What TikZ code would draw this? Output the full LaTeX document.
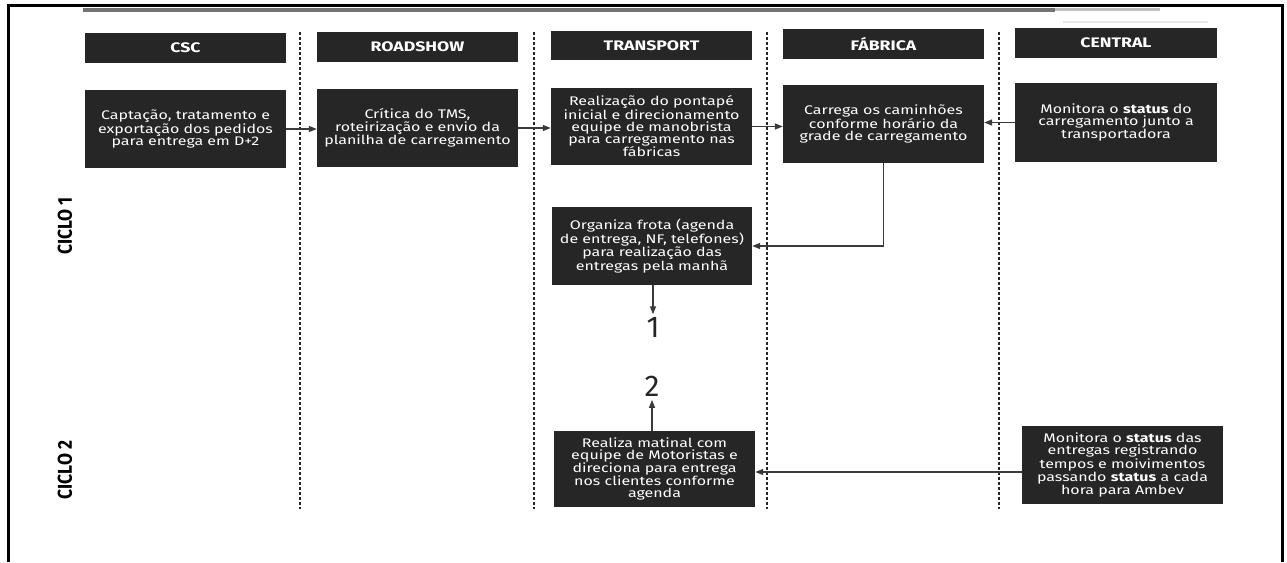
\documentclass[tikz,border=0pt]{standalone}
\usepackage{fontspec}
\setmainfont{Fira Sans}[FakeStretch=1.28]
\newfontfamily\plainfont{Fira Sans}
\newfontfamily\cyclefont{Fira Sans}[FakeStretch=0.87]
\usetikzlibrary{arrows.meta}
\definecolor{boxc}{HTML}{262626}
\definecolor{linec}{HTML}{3a3a3a}

\begin{document}
\begin{tikzpicture}[x=1pt,y=-1pt,
  lane/.style={fill=boxc, text=white, inner sep=0pt, align=center,
    minimum width=201pt, minimum height=78pt,
    font=\fontsize{12.5}{11.8}\selectfont},
  head/.style={fill=boxc, text=white, inner sep=0pt,
    minimum width=201pt, minimum height=30pt,
    font=\bfseries\fontsize{13.8}{15}\selectfont},
  flow/.style={draw=linec, line width=1.4pt, -{Triangle[length=8pt,width=6pt]}},
  divider/.style={draw=black!85, line width=1.3pt, dash pattern=on 3pt off 2pt},
  cyclelabel/.style={rotate=90, font=\cyclefont\bfseries\fontsize{20}{20}\selectfont},
  num/.style={font=\plainfont\fontsize{30}{30}\selectfont, text=black!85, inner sep=3pt}]

% page
\useasboundingbox (0,0) rectangle (1287,562);
\fill[white] (0,0) rectangle (1287,562);

% frame (open at the bottom)
\draw[line width=3pt] (8,562) -- (8,5) -- (1282,5) -- (1282,562);

% grey strip along the top
\fill[black!55] (83,7.5) rectangle (1055,11.5);
\fill[black!25] (1055,7.5) rectangle (1160,11);
\draw[black!10, line width=1.5pt] (1063,22) -- (1208,22);

% lane dividers
\foreach \x in {300,534,767,999}
  \draw[divider] (\x,32) -- (\x,509);

% lane headers
\node[head] (hcsc)   at (185.5,48)   {CSC};
\node[head] (hroad)  at (417.5,47)   {ROADSHOW};
\node[head, minimum height=29pt] (htrans) at (651.5,45.5) {TRANSPORT};
\node[head] (hfab)   at (883.5,44)   {FÁBRICA};
\node[head, minimum width=202pt] (hcen) at (1116,43) {CENTRAL};

% cycle labels
\node[cyclelabel] (c1) at (65,226) {CICLO 1};
\node[cyclelabel] (c2) at (65,470) {CICLO 2};

% cycle 1
\node[lane] (csc) at (185.5,129) {Captação, tratamento e\\exportação dos pedidos\\para entrega em D+2};
\node[lane] (road) at (417.5,128) {Crítica do TMS,\\roteirização e envio da\\planilha de carregamento};
\node[lane, minimum height=77pt] (trans) at (651.5,126.5) {Realização do pontapé\\inicial e direcionamento\\equipe de manobrista\\para carregamento nas\\fábricas};
\node[lane] (fab) at (883.5,124) {Carrega os caminhões\\conforme horário da\\grade de carregamento};
\node[lane, minimum width=202pt, minimum height=79pt] (cen) at (1116,122.5) {Monitora o \textbf{status} do\\carregamento junto a\\transportadora};
\node[lane, minimum width=200pt] (org) at (652,246) {Organiza frota (agenda\\de entrega, NF, telefones)\\para realização das\\entregas pela manhã};

\node[num] (n1) at (653,327.5) {1};
\node[num] (n2) at (652,386.5) {2};

% cycle 2
\node[lane, minimum height=76pt] (real) at (654.5,469) {Realiza matinal com\\equipe de Motoristas e\\direciona para entrega\\nos clientes conforme\\agenda};
\node[lane] (cen2) at (1122.5,465) {Monitora o \textbf{status} das\\entregas registrando\\tempos e moivimentos\\passando \textbf{status} a cada\\hora para Ambev};

% connectors
\draw[flow] (csc.east) -- (csc.east -| road.west);
\draw[flow] (road.east) -- (road.east -| trans.west);
\draw[flow] (trans.east) -- (trans.east -| fab.west);
\draw[flow] (cen.west) -- (cen.west -| fab.east);
\draw[flow] (fab.south) |- (org.east);
\draw[flow] (org.south -| n1.north) -- (n1.north);
\draw[flow] (real.north -| n2.south) -- (n2.south);
\draw[flow] ([yshift=-7pt]cen2.west) -- ([yshift=-7pt]cen2.west -| real.east);
\end{tikzpicture}
\end{document}
